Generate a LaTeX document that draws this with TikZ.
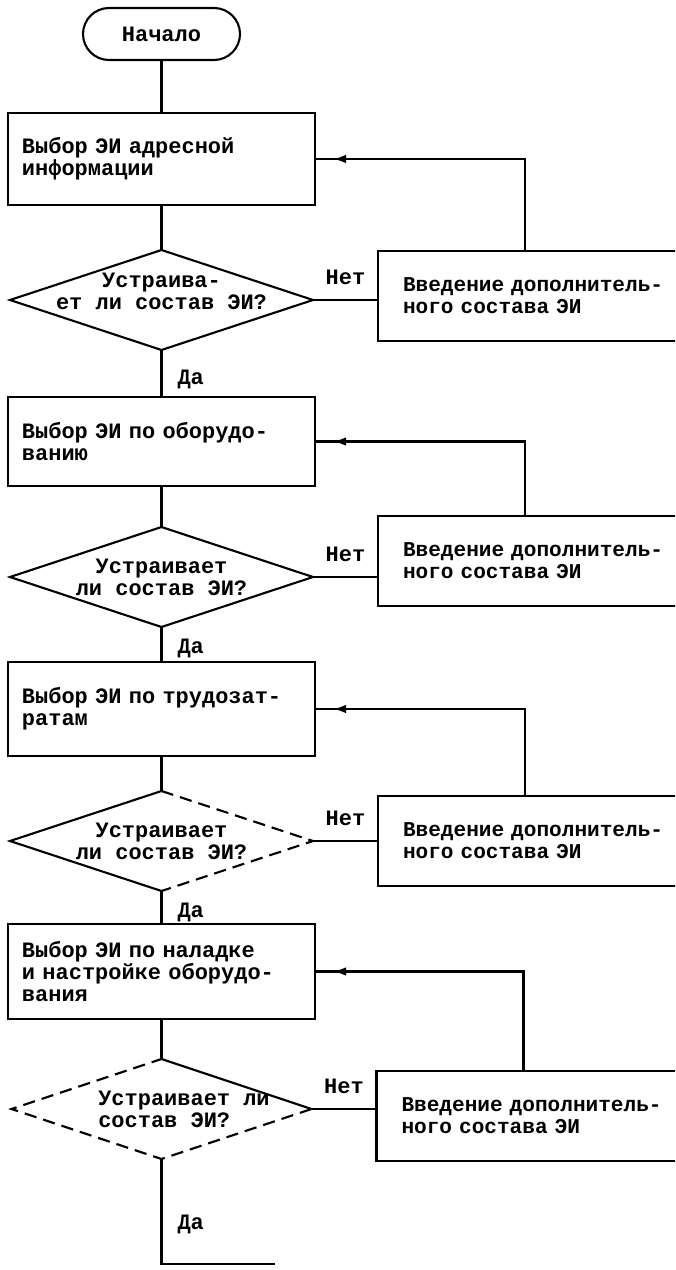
\documentclass[tikz,border=0pt]{standalone}
\usepackage{fontspec}
\newfontfamily\typewriter{Liberation Mono}
\newcommand{\flowfont}{\typewriter\bfseries\fontsize{12.5pt}{12.5pt}\selectfont}
\newcommand{\sidefont}{\typewriter\bfseries\fontsize{12pt}{12.5pt}\selectfont}
\usetikzlibrary{positioning, arrows.meta, shapes.geometric, decorations.markings}

\begin{document}
\begin{tikzpicture}[
        line width=1.2pt,
        terminal/.style={draw, rectangle, rounded corners=0.52cm, minimum width=3.14cm, minimum height=1.04cm, outer sep=0pt, font=\flowfont},
        process/.style={draw, rectangle, minimum width=6.14cm, minimum height=1.84cm, text width=5.58cm, inner xsep=0.28cm, outer sep=0pt, align=left, font=\flowfont},
        decision/.style={draw, diamond, minimum width=6.06cm, minimum height=2cm, inner sep=0pt, outer sep=0pt},
        extra/.style={draw, rectangle, minimum width=7cm, minimum height=1.8cm, text width=6cm, inner xsep=0.5cm, outer sep=0pt, align=left, font=\sidefont},
        question/.style={font=\flowfont, align=center, inner sep=0pt},
        yeslabel/.style={font=\flowfont, anchor=west, inner sep=0pt, xshift=0.3cm},
        nolabel/.style={font=\flowfont, anchor=south, inner sep=0pt, yshift=0.28cm},
        back/.style={postaction={decorate}, decoration={markings, mark=at position -0.36cm with {\arrow{Latex[length=0.26cm, width=0.17cm]}}}},
        brokenline/.style={dash pattern=on 7pt off 4pt}
    ]
    \useasboundingbox (0,0) rectangle (13.5,-25.4);
    \clip (0,0) rectangle (13.5,-25.4);

    % Main column
    \node[terminal] (start) at (3.23,-0.68) {Начало};
    \node[process, below=1.06cm of start] (b1) {Выбор ЭИ адресной\\информации};
    \node[decision, below=0.9cm of b1, label={[question, yshift=0.18cm]center:{Устраива-\\ет ли состав ЭИ?}}] (d1) {};
    \node[process, below=0.94cm of d1, minimum height=1.78cm] (b2) {Выбор ЭИ по оборудо-\\ванию};
    \node[decision, below=0.82cm of b2, label={[question]center:{Устраивает\\ли состав ЭИ?}}] (d2) {};
    \node[process, below=0.7cm of d2, minimum height=1.88cm] (b3) {Выбор ЭИ по трудозат-\\ратам};
    \node[decision, draw=none, below=0.7cm of b3, label={[question]center:{Устраивает\\ли состав ЭИ?}}] (d3) {};
    \node[process, below=0.66cm of d3, minimum height=1.9cm] (b4) {Выбор ЭИ по наладке\\и настройке оборудо-\\вания};
    \node[decision, draw=none, below=0.8cm of b4, minimum width=6cm, label={[question, align=left, xshift=0.45cm]center:{Устраивает ли\\состав ЭИ?}}] (d4) {};

    % Extra boxes on the right
    \node[extra, right=1.3cm of d1, yshift=0.08cm] (r1) {Введение дополнитель-\\ного состава ЭИ};
    \node[extra, right=1.3cm of d2, yshift=0.32cm] (r2) {Введение дополнитель-\\ного состава ЭИ};
    \node[extra, right=1.3cm of d3] (r3) {Введение дополнитель-\\ного состава ЭИ};
    \node[extra, right=1.3cm of d4, yshift=-0.14cm] (r4) {Введение дополнитель-\\ного состава ЭИ};

    % Worn outlines of the lower decisions
    \draw (d3.north) -- (d3.west) -- (d3.south);
    \draw[brokenline] (d3.north) -- (d3.east) -- (d3.south);
    \draw (d4.north) -- (d4.east);
    \draw[brokenline] (d4.east) -- (d4.south) -- (d4.west) -- (d4.north);

    % Flow down
    \draw (start) -- (b1);
    \draw (b1) -- (d1);
    \draw (d1) -- node[yeslabel, pos=0.63] {Да} (b2);
    \draw (b2) -- (d2);
    \draw (d2) -- node[yeslabel, pos=0.6] {Да} (b3);
    \draw (b3) -- (d3);
    \draw (d3) -- node[yeslabel, pos=0.65] {Да} (b4);
    \draw (b4) -- (d4);
    \coordinate[below=2.1cm of d4.south] (tail);
    \coordinate[right=2.26cm of tail] (tailend);
    \draw (d4.south) -- node[yeslabel, pos=0.62] {Да} (tail) -- (tailend);

    % No branches
    \draw (d1.east) -- node[nolabel] {Нет} (d1.east -| r1.west);
    \draw (d2.east) -- node[nolabel] {Нет} (d2.east -| r2.west);
    \draw (d3.east) -- node[nolabel] {Нет} (d3.east -| r3.west);
    \draw (d4.east) -- node[nolabel] {Нет} (d4.east -| r4.west);

    % Back to the choice boxes
    \draw[back] ([xshift=2.94cm]r1.north west) |- (b1.east);
    \draw[back] ([xshift=2.94cm]r2.north west) |- (b2.east);
    \draw[back] ([xshift=2.94cm]r3.north west) |- (b3.east);
    \draw[back] ([xshift=2.94cm]r4.north west) |- (b4.east);
\end{tikzpicture}
\end{document}
